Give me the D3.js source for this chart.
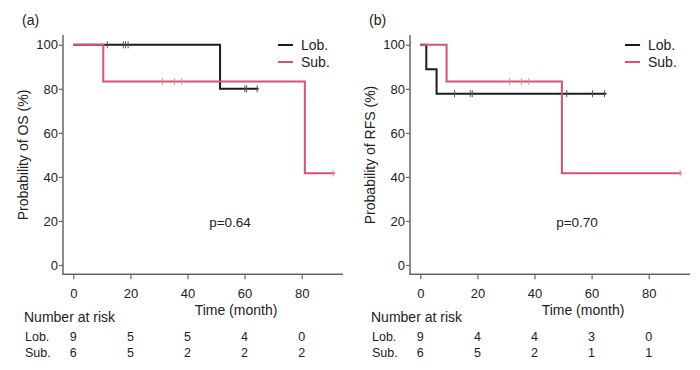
<!DOCTYPE html>
<html>
<head>
<meta charset="utf-8">
<script src="https://cdn.jsdelivr.net/npm/d3@7"></script>
<style>
  body { margin: 0; background: #fff; }
  svg text { font-family: "Liberation Sans", Arial, sans-serif; fill: #222; }
</style>
</head>
<body>
<svg id="chart" width="700" height="370"></svg>
<script>
// time points (months)
var xTicks = [0, 20, 40, 60, 80],
    yTicks = [0, 20, 40, 60, 80, 100];
var groups = ["Lob.", "Sub."];

// (a) overall survival: step times / survival (%) / censored times
var osLobTimes = [0, 51.4, 64.9],
    osLobSurv = [100, 80, 80],
    osLobCens = [11.9, 17.5, 18.3, 19.2, 60.1, 60.7, 64.4];
var osSubTimes = [0, 10.5, 81.1, 91.6],
    osSubSurv = [100, 83.3, 41.7, 41.7],
    osSubCens = [31.2, 35.4, 38.0, 91.0];
var osLobRisk = [9, 5, 5, 4, 0],
    osSubRisk = [6, 5, 2, 2, 2];

// (b) relapse-free survival
var rfsLobTimes = [0, 2.1, 5.7, 65.2],
    rfsLobSurv = [100, 88.9, 77.8, 77.8],
    rfsLobCens = [12.0, 17.5, 18.2, 51.3, 60.3, 64.5];
var rfsSubTimes = [0, 9.2, 49.6, 91.5],
    rfsSubSurv = [100, 83.3, 41.7, 41.7],
    rfsSubCens = [31.3, 35.4, 38.0, 91.0];
var rfsLobRisk = [9, 4, 4, 3, 0],
    rfsSubRisk = [6, 5, 2, 1, 1];

var colors = ["#1c1c1c", "#d9536f"],
    censColors = ["#555", "#e58a9c"];

var svg = d3.select("#chart");

function survAt(times, surv, t) {
    var v = surv[0];
    for (var i = 0; i < times.length; i++) {
        if (times[i] <= t) v = surv[i];
    }
    return v;
}

function drawPanel(ox, label, yTitle, pText, curves, risks) {
    var g = svg.append("g").attr("transform", "translate(" + ox + ",0)");

    var x = d3.scaleLinear().domain([0, 80]).range([73.3, 301.7]);
    var y = d3.scaleLinear().domain([0, 100]).range([265, 44.8]);

    // frame lines
    g.append("line").attr("x1", 63).attr("x2", 63).attr("y1", 35).attr("y2", 274.5)
        .attr("stroke", "#666").attr("stroke-width", 1.5);
    g.append("line").attr("x1", 62.3).attr("x2", 343).attr("y1", 274.3).attr("y2", 274.3)
        .attr("stroke", "#666").attr("stroke-width", 1.5);

    var yAxis = g.append("g").attr("transform", "translate(63,0)")
        .call(d3.axisLeft(y).tickValues(yTicks).tickSize(4).tickPadding(1).tickSizeOuter(0));
    yAxis.select(".domain").remove();
    yAxis.selectAll("line").attr("stroke", "#666").attr("stroke-width", 1.2);
    yAxis.selectAll("text").style("font-size", "13px").attr("fill", "#222");

    var xAxis = g.append("g").attr("transform", "translate(0,274.3)")
        .call(d3.axisBottom(x).tickValues(xTicks).tickSize(5).tickPadding(9).tickSizeOuter(0));
    xAxis.select(".domain").remove();
    xAxis.selectAll("line").attr("stroke", "#666").attr("stroke-width", 1.2);
    xAxis.selectAll("text").style("font-size", "13px").attr("fill", "#222");

    g.append("text").attr("x", 22).attr("y", 25).style("font-size", "14px").text(label);

    g.append("text")
        .attr("transform", "translate(28,155) rotate(-90)")
        .attr("text-anchor", "middle").style("font-size", "14px").text(yTitle);

    g.append("text").attr("x", 236).attr("y", 315).attr("text-anchor", "middle")
        .style("font-size", "14px").text("Time (month)");

    g.append("text").attr("x", 230).attr("y", 227).attr("text-anchor", "middle")
        .style("font-size", "13.5px").text(pText);

    var line = d3.line()
        .x(function(d) { return x(d[0]); })
        .y(function(d) { return y(d[1]); })
        .curve(d3.curveStepAfter);

    curves.forEach(function(c, i) {
        var pts = c.times.map(function(t, j) { return [t, c.surv[j]]; });
        g.append("path").datum(pts)
            .attr("d", line).attr("fill", "none")
            .attr("stroke", colors[i]).attr("stroke-width", 2);
        g.selectAll(".cens" + i).data(c.cens).enter().append("line")
            .attr("x1", function(d) { return x(d); })
            .attr("x2", function(d) { return x(d); })
            .attr("y1", function(d) { return y(survAt(c.times, c.surv, d)) - 3.5; })
            .attr("y2", function(d) { return y(survAt(c.times, c.surv, d)) + 3.5; })
            .attr("stroke", censColors[i]).attr("stroke-width", 1);
    });

    // legend
    groups.forEach(function(name, i) {
        var ly = 45 + i * 17;
        g.append("line").attr("x1", 278).attr("x2", 293).attr("y1", ly).attr("y2", ly)
            .attr("stroke", colors[i]).attr("stroke-width", 2);
        g.append("text").attr("x", 301).attr("y", ly + 5).style("font-size", "14px").text(name);
    });

    // number at risk table
    g.append("text").attr("x", 24).attr("y", 322).style("font-size", "14px").text("Number at risk");
    risks.forEach(function(r, i) {
        var ry = 341 + i * 15.5;
        g.append("text").attr("x", 25).attr("y", ry).style("font-size", "12.5px").text(groups[i]);
        g.selectAll(".risk" + i).data(r).enter().append("text")
            .attr("x", function(d, j) { return x(xTicks[j]); })
            .attr("y", ry).attr("text-anchor", "middle")
            .style("font-size", "12.5px").text(function(d) { return d; });
    });
}

drawPanel(0, "(a)", "Probability of OS (%)", "p=0.64",
    [{times: osLobTimes, surv: osLobSurv, cens: osLobCens},
     {times: osSubTimes, surv: osSubSurv, cens: osSubCens}],
    [osLobRisk, osSubRisk]);

drawPanel(347, "(b)", "Probability of RFS (%)", "p=0.70",
    [{times: rfsLobTimes, surv: rfsLobSurv, cens: rfsLobCens},
     {times: rfsSubTimes, surv: rfsSubSurv, cens: rfsSubCens}],
    [rfsLobRisk, rfsSubRisk]);
</script>
</body>
</html>
